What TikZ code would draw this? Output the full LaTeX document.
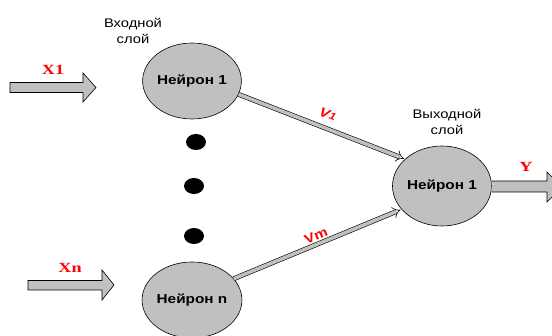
\documentclass[tikz,border=0pt]{standalone}
\usepackage{fontspec}
\setmainfont{Liberation Sans}
\newfontfamily\wsans[FakeStretch=1.18]{Liberation Sans}
\newfontfamily\wserif[FakeStretch=1.3]{Liberation Serif}
\usetikzlibrary{arrows.meta,shapes.geometric}
\definecolor{nfill}{HTML}{C0C0C0}
\begin{document}
\begin{tikzpicture}[x=1pt,y=-1pt,
  neuron/.style={ellipse,draw=black,line width=0.6pt,fill=nfill,inner sep=0pt,
    font=\wsans\bfseries\fontsize{13}{15}\selectfont},
  dotnode/.style={ellipse,fill=black,inner sep=0pt,minimum width=20pt,minimum height=16pt},
  layerlbl/.style={align=center,font=\wsans\fontsize{12.5}{16}\selectfont},
  xlbl/.style={text=red,font=\wserif\bfseries\fontsize{14}{16}\selectfont},
  wlbl/.style={text=red,inner sep=1pt,font=\wsans\bfseries\fontsize{13}{15}\selectfont},
  conn/.style={draw=black,line width=0.6pt,double=nfill,double distance=3.6pt,
    -{Implies[scale=1.4]}, shorten >=1pt},
  blockarrow/.style={draw=black,line width=0.6pt,fill=nfill}
]
\useasboundingbox (0,0) rectangle (552,336);
\clip (0,0) rectangle (552,336);

% neurons
\node[neuron,minimum width=98pt,minimum height=76pt] (in1) at (192,81) {Нейрон 1};
\node[neuron,minimum width=98pt,minimum height=76pt] (inn) at (192,300) {Нейрон n};
\node[neuron,minimum width=99pt,minimum height=80pt] (out) at (442,186) {Нейрон 1};

% dots
\node[dotnode] (d1) at (196,142) {};
\node[dotnode] (d2) at (194,186) {};
\node[dotnode] (d3) at (194,236) {};

% layer labels
\node[layerlbl] (lin) at (133,31) {Входной\\слой};
\node[layerlbl] (lout) at (447,122) {Выходной\\слой};

% input block arrows
\draw[blockarrow] (10,82.5) -- (83,82.5) -- (83,73) -- (96,87.5) -- (83,102) -- (83,92.5) -- (10,92.5) -- cycle;
\draw[blockarrow] (28,280.5) -- (102,280.5) -- (102,270) -- (114,285) -- (102,300) -- (102,290) -- (28,290) -- cycle;
% output block arrow
\coordinate (ystart) at (out.east);
\draw[blockarrow] (ystart) ++(0,-5) -- (547,181) -- (547,172) -- (562,187) -- (547,202) -- (547,192) -- (491.5,192);

% labels of inputs/outputs
\node[xlbl] (x1) at (53,70) {X1};
\node[xlbl] (xn) at (70,268) {Xn};
\node[xlbl] (y) at (526,167) {Y};

% connectors
\draw[conn] (in1.-16) -- (out.144);
\draw[conn] (inn.27) -- (out.210);

\node[wlbl,rotate=-21] (v1) at (328,114) {\itshape V\kern0.5pt{\fontsize{10}{11}\selectfont 1}};
\node[wlbl,rotate=22.5] (vm) at (316,236) {Vm};
\end{tikzpicture}
\end{document}
